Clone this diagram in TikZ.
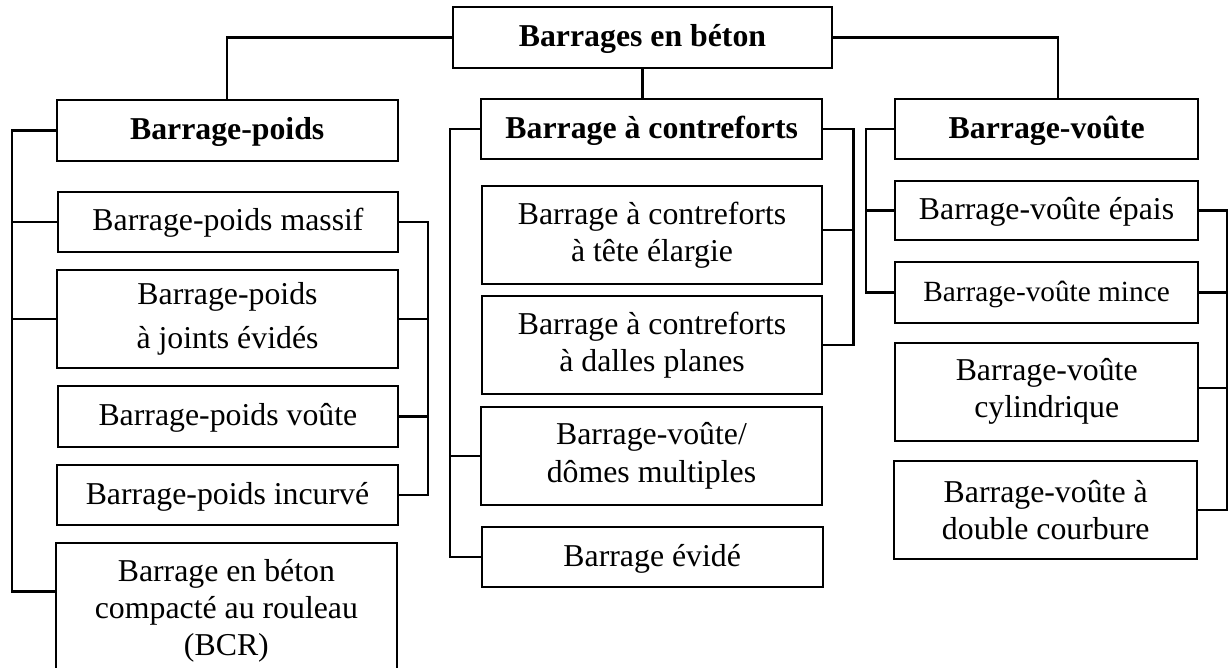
\documentclass[tikz,border=0pt]{standalone}
\usepackage{fontspec}
\setmainfont{Liberation Serif}
\begin{document}
\begin{tikzpicture}[x=1pt,y=-1pt,
  boxn/.style={draw, line width=2pt, inner sep=0pt, align=center, anchor=center,
    font=\fontsize{31.8}{37}\selectfont},
  onel/.style={text height=22pt, text depth=4pt},
  headn/.style={boxn, onel, font=\fontsize{31.8}{37}\selectfont\bfseries},
  conn/.style={line width=2.4pt}]
\useasboundingbox (0,0) rectangle (1230,668);
\clip (0,0) rectangle (1230,668);
% nodes
\node[headn, minimum width=379pt, minimum height=61pt] (root) at (642.5,37.5) {Barrages en béton};
\node[headn, minimum width=341pt, minimum height=61pt] (bp) at (227.2,130.5) {Barrage-poids};
\node[boxn, onel, minimum width=340.6pt, minimum height=60.6pt] (massif) at (228,222) {Barrage-poids massif};
\node[boxn, font=\fontsize{31.8}{44}\selectfont, minimum width=341pt, minimum height=98.3pt] (joints) at (227.5,319.2) {Barrage-poids\\à joints évidés};
\node[boxn, onel, minimum width=340.3pt, minimum height=60.7pt] (pvoute) at (227.9,416.4) {Barrage-poids voûte};
\node[boxn, onel, minimum width=341pt, minimum height=60pt] (incurve) at (227.5,495) {Barrage-poids incurvé};
\node[boxn, minimum width=340.7pt, minimum height=135.8pt] (bcr) at (226.4,610.6) {Barrage en béton\\compacté au rouleau\\(BCR)};
\node[headn, minimum width=341.3pt, minimum height=60.3pt] (bc) at (651.7,129.2) {Barrage à contreforts};
\node[boxn, minimum width=340.6pt, minimum height=98pt] (tete) at (652,235) {Barrage à contreforts\\à tête élargie};
\node[boxn, minimum width=340.6pt, minimum height=98pt] (dalles) at (652,345) {Barrage à contreforts\\à dalles planes};
\node[boxn, font=\fontsize{31.8}{38}\selectfont, minimum width=341pt, minimum height=98.3pt] (domes) at (651.5,455.9) {Barrage-voûte/\\dômes multiples};
\node[boxn, onel, minimum width=341pt, minimum height=60.6pt] (evide) at (652.2,557) {Barrage évidé};
\node[headn, minimum width=303.3pt, minimum height=60.3pt] (bv) at (1046.7,129.2) {Barrage-voûte};
\node[boxn, onel, minimum width=303pt, minimum height=59pt] (epais) at (1046.5,210.5) {Barrage-voûte épais};
\node[boxn, onel, font=\fontsize{29.3}{35}\selectfont, minimum width=303pt, minimum height=60.4pt] (mince) at (1046.5,292.5) {Barrage-voûte mince};
\node[boxn, minimum width=303.3pt, minimum height=98pt] (cyl) at (1046.7,391.7) {Barrage-voûte\\cylindrique};
\node[boxn, minimum width=303.3pt, minimum height=98.3pt] (dbl) at (1045.7,510.2) {Barrage-voûte à\\double courbure};
% bus coordinates
\coordinate (LbusA) at (11.7,0);
\coordinate (RbusA) at (428,0);
\coordinate (LbusB) at (450,0);
\coordinate (RbusB) at (853.3,0);
\coordinate (LbusC) at (865.7,0);
\coordinate (RbusC) at (1227,0);
\coordinate (bcrin) at ([yshift=19pt]bcr.west);
\coordinate (tetein) at ([yshift=5pt]tete.east);
\coordinate (cylin) at ([yshift=4pt]cyl.east);
\coordinate (bvin) at ([xshift=11pt]bv.north);
% top connectors
\draw[conn] (root.west) -| (bp.north);
\draw[conn] (root.east) -| (bvin);
\draw[conn] (root.south) -- (root.south |- bc.north);
% left column
\draw[conn] (bp.west) -| (LbusA |- bcrin) -- (bcrin);
\draw[conn] (massif.west) -- (massif.west -| LbusA);
\draw[conn] (joints.west) -- (joints.west -| LbusA);
\draw[conn] (massif.east) -| (RbusA |- incurve.east) -- (incurve.east);
\draw[conn] (joints.east) -- (joints.east -| RbusA);
\draw[conn] (pvoute.east) -- (pvoute.east -| RbusA);
% middle column
\draw[conn] (bc.west) -| (LbusB |- evide.west) -- (evide.west);
\draw[conn] (domes.west) -- (domes.west -| LbusB);
\draw[conn] (bc.east) -| (RbusB |- dalles.east) -- (dalles.east);
\draw[conn] (tetein) -- (tetein -| RbusB);
% right column
\draw[conn] (bv.west) -| (LbusC |- mince.west) -- (mince.west);
\draw[conn] (epais.west) -- (epais.west -| LbusC);
\draw[conn] (epais.east) -| (RbusC |- dbl.east) -- (dbl.east);
\draw[conn] (mince.east) -- (mince.east -| RbusC);
\draw[conn] (cylin) -- (cylin -| RbusC);
\end{tikzpicture}
\end{document}
